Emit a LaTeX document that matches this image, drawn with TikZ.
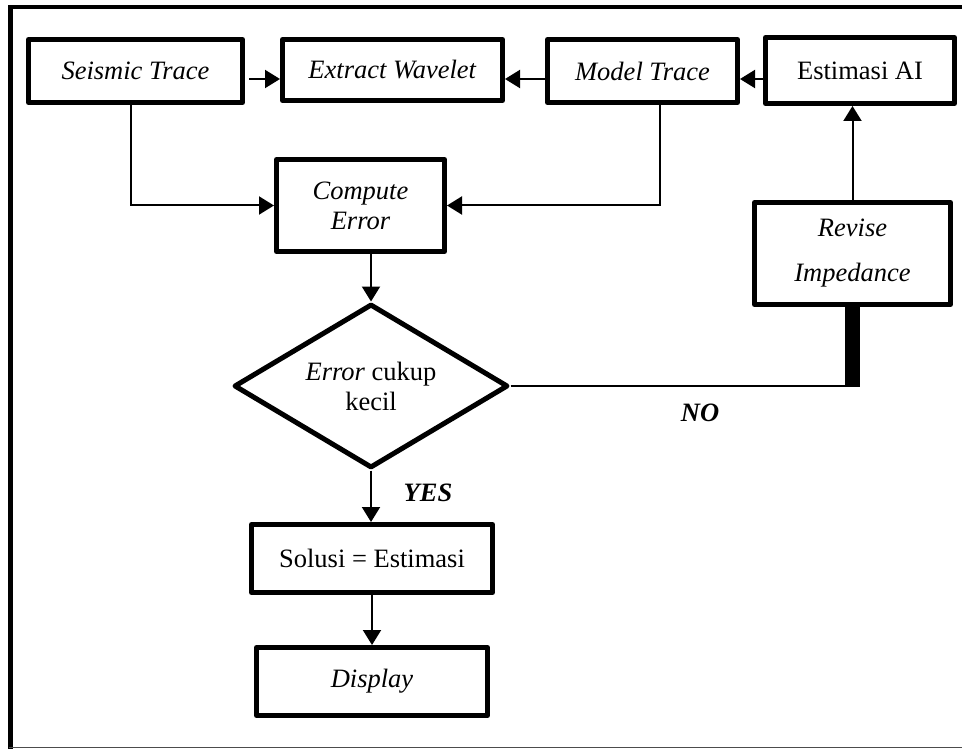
\documentclass[tikz,border=0pt]{standalone}
\usepackage{fontspec}
\setmainfont{Liberation Serif}
\usetikzlibrary{shapes.geometric,arrows.meta}
\begin{document}
\begin{tikzpicture}[x=1pt,y=-1pt,
  box/.style={draw, line width=5pt, line join=round, inner sep=0pt,
    align=center, font=\fontsize{26.5}{30}\selectfont},
  decision/.style={box, diamond, aspect=1.65},
  conn/.style={line width=2pt},
  arr/.style={conn, -{Triangle[length=15pt,width=18pt]}},
  lbl/.style={font=\fontsize{26.5}{30}\selectfont\bfseries\itshape}]
\useasboundingbox (0,0) rectangle (962,749);

% outer frame: heavy top and left edges, light bottom edge
\draw[line width=4.5pt] (962,7) -- (10.5,7) -- (10.5,749);
\draw[line width=1.5pt, black!70] (9,747.5) -- (962,747.5);

% process boxes
\node[box, minimum width=214pt, minimum height=63pt] (seis) at (135.5,71) {\textit{Seismic Trace}};
\node[box, minimum width=220pt, minimum height=61pt] (ext) at (392.5,70) {\textit{Extract Wavelet}};
\node[box, minimum width=190pt, minimum height=63pt] (model) at (642.5,71) {\textit{Model Trace}};
\node[box, minimum width=189pt, minimum height=66pt] (est) at (860,70.5) {Estimasi AI};
\node[box, minimum width=168pt, minimum height=92pt] (comp) at (360.5,205.5) {\textit{Compute}\\\textit{Error}};
\node[box, minimum width=196pt, minimum height=102pt, font=\fontsize{26.5}{45}\selectfont] (rev) at (852.5,253.5) {\textit{Revise}\\\textit{Impedance}};
\node[decision, minimum width=274pt, minimum height=164pt] (dia) at (371,386) {\textit{Error} cukup\\kecil};
\node[box, minimum width=241pt, minimum height=68pt] (sol) at (372,558.5) {Solusi = Estimasi};
\node[box, minimum width=231pt, minimum height=68pt] (disp) at (372,681.5) {\textit{Display}};

% branch labels
\node[lbl] (yes) at (428,493) {YES};
\node[lbl] (no) at (700,413) {NO};

% connectors along the top row (all at the same height, below the box centres)
\draw[arr] ([shift={(4pt,-8pt)}]seis.east) -- ([yshift=-9pt]ext.west);
\draw[arr] ([yshift=-8pt]model.west) -- ([yshift=-9pt]ext.east);
\draw[arr] ([yshift=-8.5pt]est.west) -- ([yshift=-8pt]model.east);

% traces into error computation
\draw[arr] ([xshift=-4.5pt]seis.south) |- (comp.west);
\draw[arr] ([xshift=17.5pt]model.south) |- (comp.east);

% main flow downwards
\draw[arr] (comp.south -| dia.north) -- (dia.north);
\draw[arr] (dia.south) -- (dia.south |- sol.north);
\draw[arr] (sol.south) -- (disp.north);

% feedback loop
\draw[conn] (dia.east) -- (rev.south |- dia.east);
\draw[line width=15pt] (rev.south) -- ([yshift=-1pt]rev.south |- dia.east);
\draw[arr] (rev.north) -- (rev.north |- est.south);
\end{tikzpicture}
\end{document}
